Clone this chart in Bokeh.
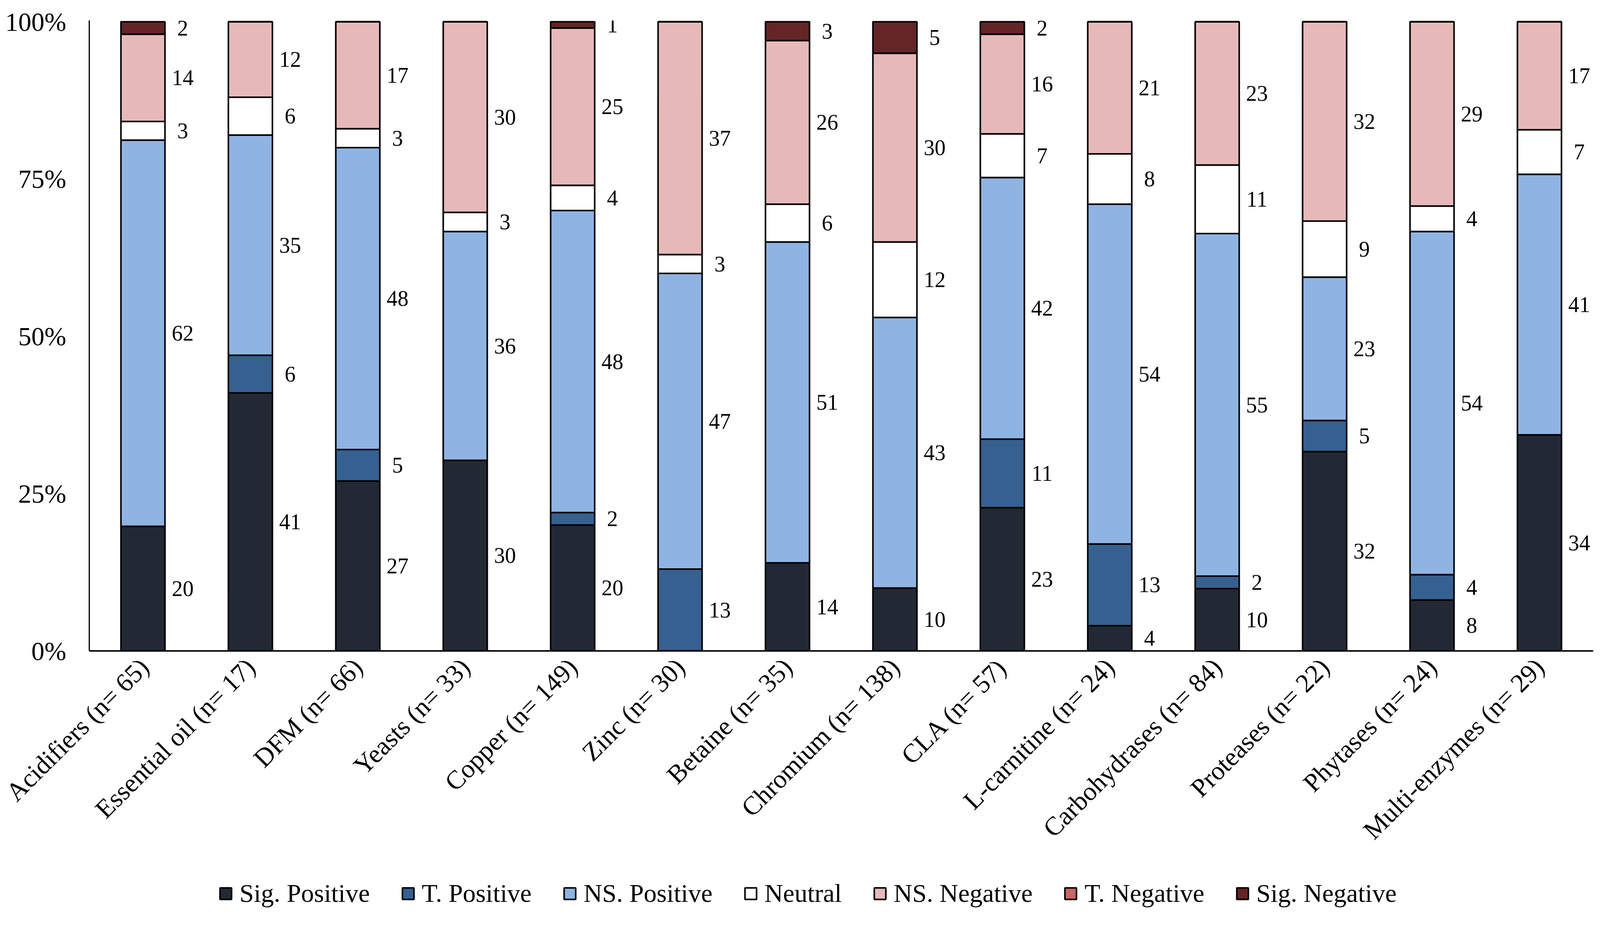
import math
from bokeh.plotting import figure
from bokeh.layouts import column
from bokeh.models import ColumnDataSource, FactorRange, Range1d, Legend, LegendItem
from bokeh.transform import dodge
from bokeh.core.properties import value
from bokeh.embed import file_html
from bokeh.resources import INLINE

categories = ["Acidifiers (n= 65)", "Essential oil (n= 17)", "DFM (n= 66)", "Yeasts (n= 33)",
              "Copper (n= 149)", "Zinc (n= 30)", "Betaine (n= 35)", "Chromium (n= 138)",
              "CLA (n= 57)", "L-carnitine (n= 24)", "Carbohydrases (n= 84)", "Proteases (n= 22)",
              "Phytases (n= 24)", "Multi-enzymes (n= 29)"]

series_names = ["Sig. Positive", "T. Positive", "NS. Positive", "Neutral",
                "NS. Negative", "T. Negative", "Sig. Negative"]
series_colors = ["#232934", "#366090", "#8fb4e3", "#ffffff", "#e6b9b8", "#c86664", "#652426"]

sig_pos = [20, 41, 27, 30, 20, 0, 14, 10, 23, 4, 10, 32, 8, 34]
t_pos   = [0, 6, 5, 0, 2, 13, 0, 0, 11, 13, 2, 5, 4, 0]
ns_pos  = [62, 35, 48, 36, 48, 47, 51, 43, 42, 54, 55, 23, 54, 41]
neutral = [3, 6, 3, 3, 4, 3, 6, 12, 7, 8, 11, 9, 4, 7]
ns_neg  = [14, 12, 17, 30, 25, 37, 26, 30, 16, 21, 23, 32, 29, 17]
t_neg   = [0, 0, 0, 0, 0, 0, 0, 0, 0, 0, 0, 0, 0, 0]
sig_neg = [2, 0, 0, 0, 1, 0, 3, 5, 2, 0, 0, 0, 0, 0]

y_ticks = [0, 25, 50, 75, 100]
y_tick_labels = ["0%", "25%", "50%", "75%", "100%"]

series_values = [sig_pos, t_pos, ns_pos, neutral, ns_neg, t_neg, sig_neg]
totals = [sum(col) for col in zip(*series_values)]

# percent-stacked data
data = {"cat": categories}
for name, vals in zip(series_names, series_values):
    data[name] = [v / t * 100.0 for v, t in zip(vals, totals)]
src = ColumnDataSource(data)

# data labels at segment middles
lab_cat, lab_y, lab_txt = [], [], []
for i, cat in enumerate(categories):
    base = 0.0
    for vals in series_values:
        h = vals[i] / totals[i] * 100.0
        if vals[i] > 0:
            lab_cat.append(cat)
            lab_y.append(base + h / 2.0)
            lab_txt.append(str(vals[i]))
        base += h
lab_src = ColumnDataSource(dict(cat=lab_cat, y=lab_y, label=lab_txt))

FONT = "Liberation Serif"
FIG_W = 228 + 3850 + 2

p = figure(x_range=FactorRange(*categories), y_range=Range1d(0, 100.2),
           frame_width=3850, frame_height=1614, output_backend="svg", toolbar_location=None,
           min_border_left=228, min_border_top=52, min_border_right=2, min_border_bottom=497)
p.x_range.range_padding = 0
p.outline_line_color = None
p.xgrid.grid_line_color = None
p.ygrid.grid_line_color = None
p.background_fill_color = "white"
p.border_fill_color = "white"

rs = p.vbar_stack(series_names, x="cat", width=0.41, source=src,
                  fill_color=series_colors, line_color="black", line_width=4)

p.text(x=dodge("cat", 0.37, range=p.x_range), y="y", text="label", source=lab_src,
       text_font=value(FONT), text_font_size="56px", text_align="center",
       text_baseline="middle", text_color="black")

# y axis
p.yaxis.ticker = y_ticks
p.yaxis.major_label_overrides = {t: l for t, l in zip(y_ticks, y_tick_labels)}
p.yaxis.major_label_text_font = FONT
p.yaxis.major_label_text_font_size = "67px"
p.yaxis.major_label_text_color = "black"
p.yaxis.major_tick_line_color = None
p.yaxis.minor_tick_line_color = None
p.yaxis.major_label_standoff = 53
p.yaxis.axis_line_color = "black"
p.yaxis.axis_line_width = 3

# x axis
p.xaxis.major_label_orientation = math.pi / 4
p.xaxis.major_label_text_font = FONT
p.xaxis.major_label_text_font_size = "67px"
p.xaxis.major_label_text_color = "black"
p.xaxis.major_tick_line_color = None
p.xaxis.major_label_standoff = 24
p.xaxis.axis_line_color = "black"
p.xaxis.axis_line_width = 4

# legend strip below the chart (swatch renderers are zero-size, only the legend shows them)
leg = figure(width=FIG_W, height=150, x_range=Range1d(0, 1), y_range=Range1d(0, 1),
             output_backend="svg", toolbar_location=None,
             x_axis_location=None, y_axis_location=None,
             min_border_left=0, min_border_right=0, min_border_top=0, min_border_bottom=0)
leg.outline_line_color = None
leg.xgrid.grid_line_color = None
leg.ygrid.grid_line_color = None
leg_items = []
for name, col in zip(series_names, series_colors):
    r = leg.vbar(x=[0.5], top=[0.5], bottom=[0.5], width=0,
                 fill_color=col, line_color="black", line_width=4)
    leg_items.append(LegendItem(label=name, renderers=[r]))

legend = Legend(items=leg_items, orientation="horizontal", location=(331, 16),
                glyph_width=37, glyph_height=37, label_standoff=17, spacing=79,
                padding=0, margin=0, border_line_color=None, background_fill_alpha=0,
                label_text_font=FONT, label_text_font_size="66px", label_text_color="black")
leg.add_layout(legend, "center")

layout = column(p, leg, spacing=0)
open("out.html", "w").write(file_html(layout, INLINE))
